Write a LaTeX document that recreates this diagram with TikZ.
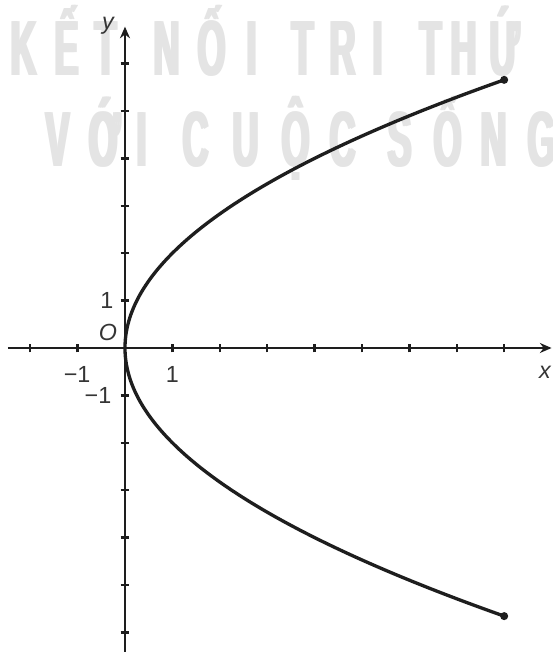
\documentclass[tikz,border=0pt]{standalone}
\usepackage{fontspec}
\setmainfont{Liberation Sans}
\usetikzlibrary{arrows.meta}
\definecolor{wmgray}{RGB}{228,228,228}
\definecolor{ink}{RGB}{30,30,30}
\tikzset{
  wm/.style={font=\fontsize{47}{47}\selectfont\bfseries, text=wmgray, anchor=base, inner sep=0pt, xscale=0.46, transform shape},
  axis/.style={draw=ink, line width=1.2pt},
  tick/.style={draw=ink, line width=1.4pt},
  curve/.style={draw=ink, line width=2pt},
  lbl/.style={font=\fontsize{14}{16}\selectfont, text=ink!90, inner sep=0pt}
}
\begin{document}
\begin{tikzpicture}[>={Stealth[length=7pt,width=6pt]}]
\useasboundingbox (-2.637,-6.414) rectangle (9.030,7.342);
\clip (-2.637,-6.414) rectangle (9.030,7.342);
% watermark (each letter set three times, side by side, for thick stems)
\foreach \dx [count=\k] in {-0.04,0,0.04}{
  \foreach \cx/\ch [count=\i] in {24/K,67/Ế,106/T,167/N,212/Ố,252/I,303/T,343/R,378/I,431/T,464/H,505/Ứ}
    \node[wm] (wa\k-\i) at ({(\cx-125)/47.4+\dx},5.759) {\ch};
  \foreach \cx/\ch [count=\i] in {58/V,105/Ớ,142/I,196/C,246/U,296/Ộ,343/C,400/S,448/Ố,494/N,542/G}
    \node[wm] (wb\k-\i) at ({(\cx-125)/47.4+\dx},3.819) {\ch};
}
% axes
\draw[axis, ->] (-2.47,0) -- (9.0,0);
\draw[axis, ->] (0,-6.42) -- (0,6.78);
\foreach \t in {-2,-1,1,2,...,8}
  \draw[tick] (\t,-0.09) -- (\t,0.09);
\foreach \t in {-6,...,-1,1,2,...,6}
  \draw[tick] (-0.09,\t) -- (0.09,\t);
% parabola
\draw[curve] plot[domain=-5.657:5.657, samples=121, smooth] ({\x*\x/4},\x);
\fill[ink] (8,5.657) circle (0.085);
\fill[ink] (8,-5.657) circle (0.085);
% labels
\node[lbl, anchor=base] (ylab) at (-0.36,6.71) {\itshape y};
\node[lbl] (xlab) at (8.86,-0.51) {\itshape x};
\node[lbl] (olab) at (-0.36,0.32) {\itshape O};
\node[lbl] (y1) at (-0.38,1.01) {1};
\node[lbl] (ym1) at (-0.57,-1.01) {−1};
\node[lbl] (x1) at (1.0,-0.55) {1};
\node[lbl] (xm1) at (-1.01,-0.55) {−1};
\end{tikzpicture}
\end{document}
